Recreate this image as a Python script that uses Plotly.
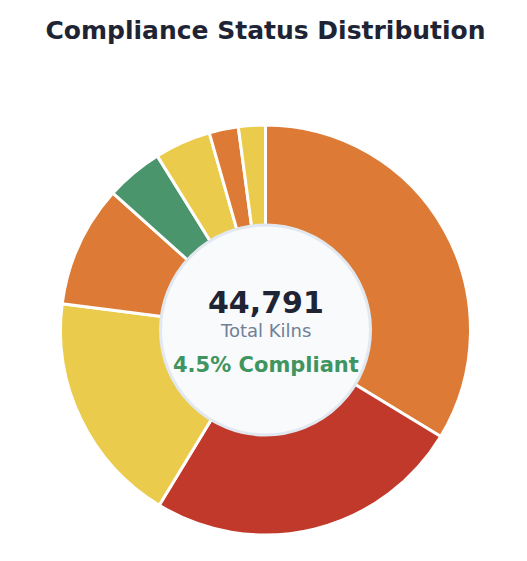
import plotly.graph_objects as go

labels = ["Non-compliant (Type A)", "Critical violation", "Partial compliance",
          "Pending review", "Compliant", "Under inspection", "Minor violation", "Unknown"]
values = [15090, 11190, 8230, 4300, 2016, 1985, 1030, 950]
colors = ["#dd7b36", "#c0392b", "#ebcb4b", "#dd7b36", "#4a956c", "#ebcb4b", "#dd7b36", "#ebcb4b"]

total_text = "44,791"
sub_text = "Total Kilns"
compliant_text = "4.5% Compliant"

fig = go.Figure(go.Pie(
    labels=labels, values=values, sort=False, direction="clockwise", rotation=0,
    hole=0.5, textinfo="none", showlegend=False,
    marker=dict(colors=colors, line=dict(color="#ffffff", width=3)),
))

W, H = 527, 561
l, r, t, b = 60, 56, 125, 26
pw, ph = W - l - r, H - t - b
rad = 105
fig.add_shape(type="circle", xref="paper", yref="paper", layer="above",
              x0=0.5 - rad / pw, x1=0.5 + rad / pw, y0=0.5 - rad / ph, y1=0.5 + rad / ph,
              fillcolor="#f8fafc", line=dict(color="#e2e8f0", width=3))

fig.add_annotation(x=0.5, y=0.5 + 28 / ph, xref="paper", yref="paper", text=total_text,
                   showarrow=False, font=dict(family="DejaVu Sans", size=30, color="#1e2433", weight="bold"))
fig.add_annotation(x=0.5, y=0.5 + 0 / ph, xref="paper", yref="paper", text=sub_text,
                   showarrow=False, font=dict(family="DejaVu Sans", size=18, color="#718096"))
fig.add_annotation(x=0.5, y=0.5 - 35 / ph, xref="paper", yref="paper", text=compliant_text,
                   showarrow=False, font=dict(family="DejaVu Sans", size=21, color="#3f9460", weight="bold"))

fig.update_layout(
    width=W, height=H, margin=dict(l=l, r=r, t=t, b=b),
    paper_bgcolor="#ffffff", plot_bgcolor="#ffffff",
    title=dict(text="Compliance Status Distribution", x=0.5, xref="paper", y=1 - 30 / H, yanchor="middle",
               font=dict(family="DejaVu Sans", size=25, color="#1e2433", weight="bold")),
)
fig.write_html("out.html")
